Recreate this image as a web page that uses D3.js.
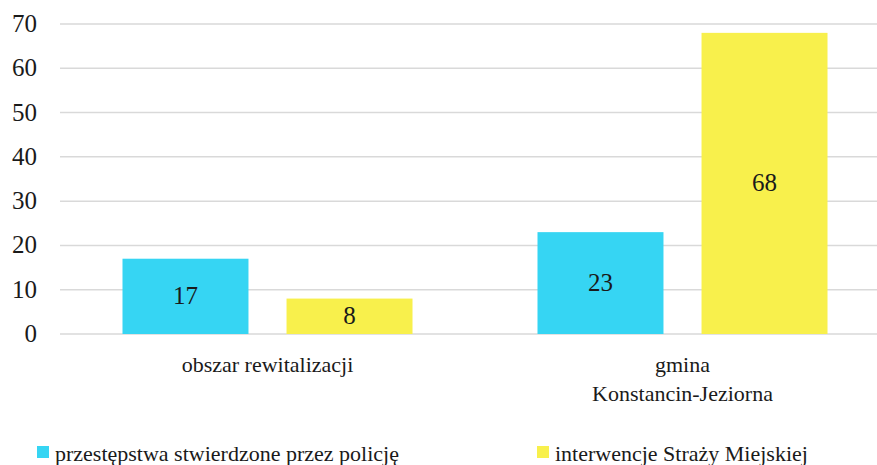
<!DOCTYPE html>
<html>
<head>
<meta charset="utf-8">
<script src="https://cdn.jsdelivr.net/npm/d3@7"></script>
<style>
  html, body { margin: 0; padding: 0; background: #fff; overflow: hidden; }
  #chart svg text, #chart svg tspan { font-family: 'Liberation Serif', 'Times New Roman', serif !important; fill: #1a1a1a; }
  #chart svg text.big { font-size: 25px !important; }
  #chart svg text.mid { font-size: 22px !important; }
</style>
</head>
<body>
<div id="chart"></div>
<script>
// data
const categories = [["obszar rewitalizacji"], ["gmina", "Konstancin-Jeziorna"]];
const seriesNames = ["przestępstwa stwierdzone przez policję", "interwencje Straży Miejskiej"];
const policeValues = [17, 23];
const guardValues = [8, 68];
const yTicks = [0, 10, 20, 30, 40, 50, 60, 70];
const colors = ["#36d5f3", "#f8f04c"];

const W = 877, H = 465;
const svg = d3.select("#chart").append("svg")
    .attr("width", W).attr("height", H);

const plotLeft = 60, plotRight = 890, plotTop = 24, plotBottom = 334;

const x0 = d3.scaleBand()
    .domain(d3.range(categories.length))
    .range([plotLeft, plotRight])
    .paddingInner(0).paddingOuter(0);

const x1 = d3.scaleBand()
    .domain([0, 1])
    .range([0, x0.bandwidth()])
    .paddingInner(0.232).paddingOuter(0.381);

const y = d3.scaleLinear().domain([0, 70]).range([plotBottom, plotTop]);

// gridlines
svg.append("g")
    .selectAll("line")
    .data(yTicks)
    .enter().append("line")
    .attr("x1", plotLeft).attr("x2", plotRight)
    .attr("y1", d => y(d)).attr("y2", d => y(d))
    .attr("stroke", "#d9d9d9")
    .attr("stroke-width", 1.5);

// y tick labels
svg.append("g")
    .selectAll("text")
    .data(yTicks)
    .enter().append("text")
    .attr("class", "big")
    .attr("x", 37)
    .attr("y", d => y(d) + 8)
    .attr("text-anchor", "end")
    .text(d => d);

// bars
const series = [policeValues, guardValues];
series.forEach((vals, si) => {
    const g = svg.append("g");
    g.selectAll("rect")
        .data(vals)
        .enter().append("rect")
        .attr("x", (d, i) => x0(i) + x1(si))
        .attr("y", d => y(d))
        .attr("width", x1.bandwidth())
        .attr("height", d => y(0) - y(d))
        .attr("fill", colors[si]);
    g.selectAll("text")
        .data(vals)
        .enter().append("text")
        .attr("class", "big")
        .attr("x", (d, i) => x0(i) + x1(si) + x1.bandwidth() / 2)
        .attr("y", d => (y(d) + y(0)) / 2 + 8)
        .attr("text-anchor", "middle")
        .text(d => d);
});

// category labels
categories.forEach((lines, i) => {
    const t = svg.append("text")
        .attr("class", "mid")
        .attr("x", x0(i) + x0.bandwidth() / 2)
        .attr("y", 372)
        .attr("text-anchor", "middle");
    lines.forEach((ln, j) => {
        t.append("tspan")
            .attr("x", x0(i) + x0.bandwidth() / 2)
            .attr("dy", j === 0 ? 0 : 29)
            .text(ln);
    });
});

// legend
const legendX = [37, 537];
seriesNames.forEach((name, i) => {
    svg.append("rect")
        .attr("x", legendX[i]).attr("y", 446)
        .attr("width", 12).attr("height", 12)
        .attr("fill", colors[i]);
    svg.append("text")
        .attr("class", "mid")
        .attr("x", legendX[i] + 18).attr("y", 461)
        .text(name);
});
</script>
</body>
</html>
